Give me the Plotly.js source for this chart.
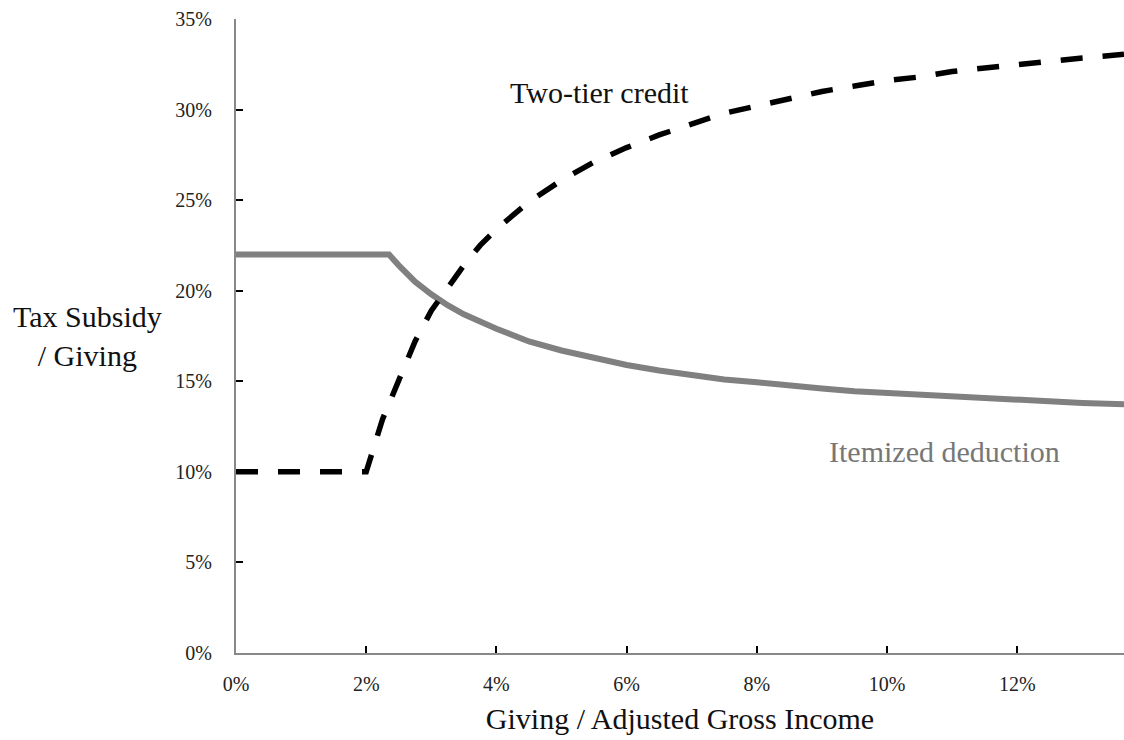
<!DOCTYPE html>
<html>
<head>
<meta charset="utf-8">
<script src="https://cdn.plot.ly/plotly-3.0.1.min.js"></script>
<style>html,body{margin:0;padding:0;background:#fff;}#chart{width:1124px;height:740px;}</style>
</head>
<body>
<div id="chart"></div>
<script>
// Giving / AGI (%) and subsidy rates (%)
const creditX = [0, 2, 2.25, 2.5, 2.75, 3, 3.25, 3.5, 3.75, 4, 4.5, 5, 5.5, 6, 6.5, 7, 7.5, 8, 8.5, 9, 9.5, 10, 10.5, 11, 11.5, 12, 12.5, 13, 13.64];
const creditY = [10, 10, 12.9, 15.1, 17.2, 18.9, 20.2, 21.4, 22.5, 23.4, 24.9, 26.1, 27.1, 27.9, 28.6, 29.2, 29.8, 30.2, 30.6, 31.0, 31.3, 31.6, 31.8, 32.1, 32.3, 32.5, 32.7, 32.85, 33.05];
const deductX = [0, 2.35, 2.5, 2.75, 3, 3.25, 3.5, 3.75, 4, 4.5, 5, 5.5, 6, 6.5, 7, 7.5, 8, 8.5, 9, 9.5, 10, 10.5, 11, 11.5, 12, 12.5, 13, 13.64];
const deductY = [22, 22, 21.4, 20.5, 19.8, 19.2, 18.7, 18.3, 17.9, 17.2, 16.7, 16.3, 15.9, 15.6, 15.35, 15.1, 14.95, 14.75, 14.6, 14.45, 14.35, 14.25, 14.15, 14.05, 13.95, 13.9, 13.8, 13.73];
const xTicks = [0, 2, 4, 6, 8, 10, 12];
const xTickText = ["0%", "2%", "4%", "6%", "8%", "10%", "12%"];
const yTicks = [0, 5, 10, 15, 20, 25, 30, 35];
const yTickText = ["0%", "5%", "10%", "15%", "20%", "25%", "30%", "35%"];
const seriesNames = ["Two-tier credit", "Itemized deduction"];
const xTitle = "Giving / Adjusted Gross Income";
const yTitle = "Tax Subsidy<br>/ Giving";

const FONT = "Liberation Serif";

const traces = [
  {x: deductX, y: deductY, mode: "lines", name: seriesNames[1],
   line: {color: "#808080", width: 6}, hoverinfo: "none"},
  {x: creditX, y: creditY, mode: "lines", name: seriesNames[0],
   line: {color: "#000000", width: 5.5, dash: "22px,20px"}, hoverinfo: "none"}
];

const layout = {
  width: 1124, height: 740,
  margin: {l: 236, r: 0, t: 19, b: 87},
  paper_bgcolor: "#fff", plot_bgcolor: "#fff",
  showlegend: false,
  font: {family: FONT, color: "#222", size: 20},
  xaxis: {
    range: [0, 13.64], tickmode: "array", tickvals: xTicks, ticktext: xTickText,
    ticks: "inside", ticklen: 7, tickwidth: 2, tickcolor: "#000",
    showline: true, linecolor: "#888", linewidth: 2,
    showgrid: false, zeroline: false,
    tickfont: {family: FONT, size: 20, color: "#222"},
    ticklabelstandoff: 12,
    title: {text: xTitle, font: {family: FONT, size: 30, color: "#111"}, standoff: 14}
  },
  yaxis: {
    range: [0, 35], tickmode: "array", tickvals: yTicks, ticktext: yTickText,
    ticks: "inside", ticklen: 7, tickwidth: 2, tickcolor: "#000",
    showline: true, linecolor: "#888", linewidth: 2,
    showgrid: false, zeroline: false,
    tickfont: {family: FONT, size: 20, color: "#222"},
    ticklabelstandoff: 18
  },
  annotations: [
    {xref: "paper", yref: "paper", x: -0.1667, y: 0.5, text: yTitle, showarrow: false,
     xanchor: "center", yanchor: "middle", align: "center",
     font: {family: FONT, size: 30, color: "#111"}},
    {xref: "x", yref: "y", x: 5.59, y: 30.97, text: seriesNames[0], showarrow: false,
     xanchor: "center", yanchor: "middle", font: {family: FONT, size: 30, color: "#111"}},
    {xref: "x", yref: "y", x: 10.88, y: 11.1, text: seriesNames[1], showarrow: false,
     xanchor: "center", yanchor: "middle", font: {family: FONT, size: 30, color: "#777"}}
  ]
};

Plotly.newPlot("chart", traces, layout, {displayModeBar: false, staticPlot: true});
</script>
</body>
</html>
